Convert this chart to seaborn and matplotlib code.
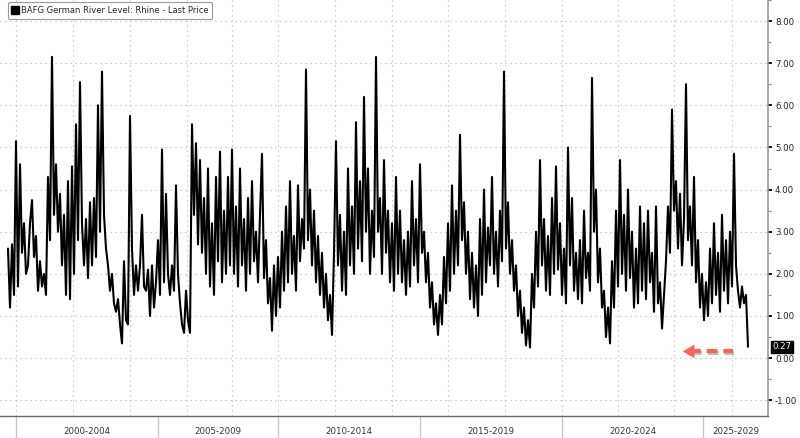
import numpy as np
import pandas as pd
import seaborn as sns
import matplotlib.pyplot as plt
from matplotlib.lines import Line2D
import matplotlib.patheffects as pe

# ------------------------------
# Data (Rhine level, one reading every ~2 px of the original)
# ------------------------------
level = [
    2.6, 1.2, 2.7, 1.5, 5.15, 1.7, 4.6, 2.5, 3.2, 2.0,
    2.2, 3.2, 3.75, 2.4, 2.9, 1.6, 2.3, 1.7, 2.0, 1.5,
    4.3, 2.8, 7.15, 3.4, 4.6, 3.0, 3.9, 2.2, 3.4, 1.5,
    4.2, 1.4, 4.55, 2.0, 5.55, 2.8, 6.55, 3.2, 2.2, 3.3,
    1.9, 3.7, 2.2, 3.8, 2.4, 6.0, 3.0, 6.8, 3.4, 2.6,
    2.2, 1.6, 2.0, 1.3, 1.1, 1.4, 0.8, 0.35, 2.3, 0.9,
    0.8, 5.75, 2.6, 1.5, 2.2, 1.6, 2.2, 3.4, 1.7, 1.6,
    2.1, 1.0, 2.2, 1.2, 1.8, 2.8, 1.5, 4.95, 1.8, 3.9,
    2.0, 1.5, 2.2, 1.6, 4.1, 2.0, 1.3, 0.8, 0.6, 1.6,
    0.9, 0.6, 5.55, 3.4, 5.1, 2.7, 4.7, 2.5, 3.8, 2.0,
    4.5, 1.7, 3.2, 1.5, 4.3, 2.3, 4.9, 1.8, 3.5, 2.0,
    4.3, 2.2, 4.95, 2.0, 3.6, 1.7, 4.5, 2.2, 3.3, 1.6,
    3.8, 2.0, 4.2, 2.3, 3.0, 1.8, 3.4, 4.85, 1.9, 2.8,
    1.3, 1.9, 0.65, 2.2, 1.0, 2.4, 1.2, 3.0, 1.6, 3.6,
    1.8, 4.2, 2.0, 2.9, 1.6, 4.1, 2.3, 3.3, 2.6, 6.85,
    2.8, 4.0, 2.2, 3.5, 1.8, 2.9, 1.5, 2.5, 1.2, 2.0,
    0.9, 1.5, 0.55, 2.5, 5.15, 2.2, 3.4, 1.6, 3.0, 1.5,
    4.5, 2.2, 3.6, 2.0, 5.6, 2.6, 4.2, 2.3, 6.2, 3.0,
    4.5, 2.0, 3.5, 2.4, 7.15, 3.0, 3.8, 2.0, 4.7, 2.5,
    3.5, 1.8, 3.2, 1.6, 4.3, 2.0, 3.5, 1.8, 2.8, 1.5,
    3.0, 1.7, 4.2, 2.2, 3.3, 1.8, 4.6, 2.5, 3.0, 1.8,
    2.5, 1.2, 1.8, 0.8, 1.3, 0.55, 1.5, 0.8, 2.4, 1.3,
    3.2, 1.6, 4.1, 2.0, 3.5, 2.2, 5.3, 2.8, 3.7, 2.0,
    3.0, 1.4, 2.5, 1.2, 2.2, 1.0, 3.3, 1.5, 4.0, 1.8,
    3.1, 2.2, 4.3, 2.0, 3.0, 1.7, 3.5, 2.3, 6.8, 2.6,
    3.7, 2.0, 2.8, 1.6, 2.2, 1.0, 1.6, 0.6, 1.2, 0.3,
    0.9, 0.25, 2.0, 1.2, 3.0, 1.7, 4.7, 2.2, 3.3, 1.6,
    2.9, 1.5, 3.8, 2.0, 4.55, 2.1, 3.2, 1.5, 2.6, 1.3,
    5.0, 2.2, 3.8, 1.6, 2.5, 1.4, 2.8, 1.3, 3.5, 1.9,
    2.5, 1.6, 6.65, 3.0, 4.0, 1.8, 2.6, 1.2, 1.6, 0.5,
    1.2, 0.35, 2.3, 1.2, 3.5, 1.7, 4.7, 2.0, 3.4, 1.6,
    4.0, 1.9, 3.0, 1.2, 2.6, 1.3, 3.6, 1.6, 3.2, 1.4,
    3.5, 1.8, 2.5, 1.1, 3.6, 1.3, 1.8, 0.7, 1.5, 2.3,
    3.6, 2.5, 5.9, 3.5, 4.2, 2.6, 3.9, 2.2, 3.3, 6.5,
    2.8, 3.6, 2.2, 4.3, 1.8, 2.8, 1.2, 2.0, 0.9, 1.8,
    1.0, 2.6, 1.3, 3.2, 1.5, 2.5, 1.1, 3.4, 1.6, 2.8,
    1.3, 3.0, 1.7, 4.85, 2.2, 1.6, 1.2, 1.7, 1.3, 1.5,
    0.27,
]

# observation index at which each calendar year starts
years = list(range(2000, 2028))
year_idx = [4, 18.5, 32.5, 47, 61, 75, 89.5, 102.5, 112, 122.5,
            135, 149.5, 163.5, 177.5, 192, 206, 220, 234.5, 248.5, 262.5,
            277, 291, 305, 319, 333, 347.5, 362, 374.5]
period_labels = ['2000-2004', '2005-2009', '2010-2014', '2015-2019', '2020-2024', '2025-2029']
period_start = [2000, 2005, 2010, 2015, 2020, 2025]

series_name = 'BAFG German River Level: Rhine - Last Price'

df = pd.DataFrame({'obs': np.arange(len(level)), 'level': level})
yr = dict(zip(years, year_idx))

# ------------------------------
# Plot
# ------------------------------
sns.set_style('white')
plt.rcParams['font.family'] = ['DejaVu Sans']

fig = plt.figure(figsize=(8, 4.38), dpi=100)
ax = fig.add_axes([0, 22 / 438, 768 / 800, 416 / 438])

x_lo, x_hi = -4, 380
ax.set_xlim(x_lo, x_hi)
ax.set_ylim(-1.374, 8.35)

# dotted grid
grid_kw = dict(color='#b4b4b4', lw=0.8, ls=(0, (1, 3.5)), zorder=0)
for v in range(-1, 9):
    ax.axhline(v, **grid_kw)
for y in years[::2]:
    ax.axvline(yr[y], **grid_kw)

sns.lineplot(data=df, x='obs', y='level', color='black', lw=1.5, ax=ax, legend=False, zorder=3)

# right-hand value axis
ax.yaxis.tick_right()
ax.set_yticks(np.arange(-1, 9))
ax.set_yticklabels([f'{v:.2f}' for v in np.arange(-1, 9)])
ax.set_yticks(np.arange(-1, 8.5, 1) + 0.5, minor=True)
ax.tick_params(axis='y', which='major', length=3, width=1.3, color='black',
               labelsize=6.2, labelcolor='#222222', pad=2)
ax.tick_params(axis='y', which='minor', length=2, width=0.8, color='#888888')

# period axis
starts = [yr[p] for p in period_start]
ends = starts[1:] + [x_hi]
centers = [(a + b) / 2 for a, b in zip(starts, ends)]
ax.set_xticks(centers)
ax.set_xticklabels(period_labels)
ax.set_xticks(year_idx, minor=True)
ax.tick_params(axis='x', which='major', length=0, labelsize=6.2, labelcolor='#333333', pad=8)
ax.tick_params(axis='x', which='minor', length=3, width=0.9, color='#444444')
ax.vlines(starts, -0.06, 0, transform=ax.get_xaxis_transform(), clip_on=False,
          color='#c8c8c8', lw=1)
ax.set_xlabel('')
ax.set_ylabel('')

for s in ['left', 'top']:
    ax.spines[s].set_visible(False)
ax.spines['bottom'].set_color('#666666')
ax.spines['right'].set_color('#999999')
ax.spines['bottom'].set_linewidth(1)
ax.spines['right'].set_linewidth(1.2)

# legend
handle = Line2D([], [], marker='s', color='black', ls='none', markersize=5.5)
leg = ax.legend(handles=[handle], labels=[series_name], loc='upper left',
                bbox_to_anchor=(8 / 768, 1 - 2 / 416), borderaxespad=0, frameon=True,
                fancybox=True, fontsize=6, handlelength=0.7, handletextpad=0.4,
                borderpad=0.45, framealpha=1)
leg.get_frame().set_edgecolor('#9a9a9a')
leg.get_frame().set_linewidth(0.8)

# last value tag
last = level[-1]
ax.annotate(f'{last:.2f}', xy=(1, last), xycoords=('axes fraction', 'data'),
            xytext=(3, 0), textcoords='offset points', va='center', ha='left',
            fontsize=6.2, color='white',
            bbox=dict(boxstyle='square,pad=0.15', fc='black', ec='black'),
            annotation_clip=False)

# red dashed arrow pointing at the latest low
red = '#f0675a'
n = len(level) - 1
ay = 0.16
shadow = [pe.SimpleLineShadow(offset=(1, -1), alpha=0.25), pe.Normal()]
ax.plot([n - 29, n - 7.5], [ay, ay], color=red, lw=3, ls=(0, (2.6, 1.4)),
        solid_capstyle='butt', zorder=4, path_effects=shadow)
ax.annotate('', xy=(n - 34, ay), xytext=(n - 29.5, ay),
            arrowprops=dict(arrowstyle='-|>,head_length=0.6,head_width=0.35',
                            color=red, lw=0, mutation_scale=14), zorder=4)

fig.savefig('out.png', dpi=100)
plt.close()
